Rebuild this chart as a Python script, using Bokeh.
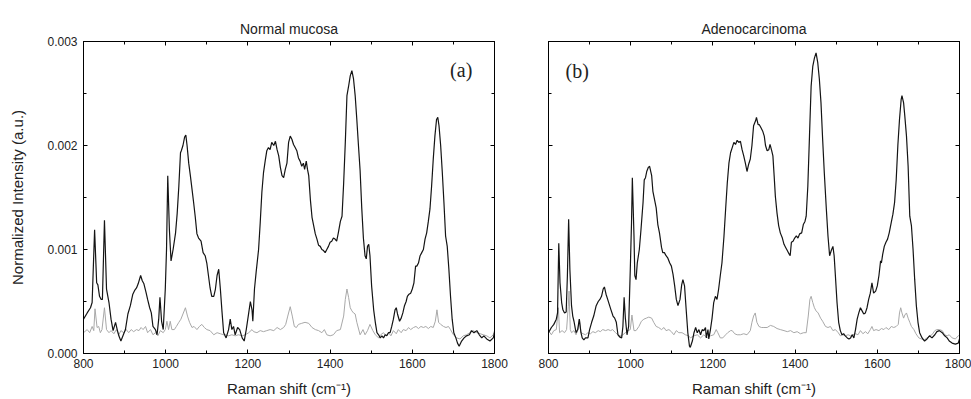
import numpy as np
from bokeh.plotting import figure
from bokeh.models import LinearAxis, FixedTicker, Label, CustomJSTickFormatter, Range1d
from bokeh.layouts import row
from bokeh.embed import file_html
from bokeh.resources import INLINE

# ---------------- data (intensity in units of 1e-3 a.u.) ----------------
titles = ["Normal mucosa", "Adenocarcinoma"]
panel_tags = ["(a)", "(b)"]
x_major = [800, 1000, 1200, 1400, 1600, 1800]
x_minor = [900, 1100, 1300, 1500, 1700]
y_major = [0.0, 0.001, 0.002, 0.003]
y_minor = [0.0005, 0.0015, 0.0025]
y_labels = {0.0: "0.000", 0.001: "0.001", 0.002: "0.002", 0.003: "0.003"}

black_a_x = [800, 809, 817, 821, 827, 832, 835, 839, 843, 846, 851, 856, 862, 867, 872, 878, 882, 886, 891, 896,
             902, 908, 914, 920, 925, 929, 933, 939, 943, 947, 952, 956, 961, 965, 969, 975, 979, 983, 986, 990,
             994, 999, 1002, 1005, 1009, 1013, 1018, 1024, 1028, 1032, 1036, 1038, 1042, 1046, 1049, 1052, 1056,
             1060, 1064, 1068, 1072, 1076, 1080, 1086, 1091, 1096, 1100, 1104, 1108, 1112, 1117, 1121, 1125, 1129,
             1133, 1137, 1141, 1147, 1153, 1157, 1161, 1165, 1169, 1175, 1180, 1186, 1191, 1196, 1202, 1206, 1210,
             1212, 1216, 1220, 1226, 1230, 1234, 1238, 1242, 1246, 1250, 1254, 1258, 1263, 1267, 1271, 1275, 1279,
             1283, 1287, 1291, 1295, 1299, 1303, 1307, 1311, 1315, 1319, 1323, 1327, 1331, 1335, 1338, 1342, 1345,
             1348, 1352, 1356, 1360, 1364, 1368, 1372, 1376, 1380, 1384, 1388, 1392, 1396, 1400, 1404, 1408, 1412,
             1416, 1420, 1425, 1429, 1433, 1437, 1441, 1445, 1449, 1453, 1457, 1461, 1465, 1469, 1473, 1477, 1481,
             1485, 1488, 1491, 1494, 1497, 1501, 1506, 1510, 1514, 1518, 1522, 1526, 1530, 1534, 1538, 1542, 1546,
             1550, 1554, 1558, 1561, 1564, 1569, 1573, 1577, 1581, 1585, 1588, 1592, 1596, 1600, 1604, 1608, 1611,
             1615, 1619, 1623, 1627, 1631, 1635, 1639, 1643, 1647, 1651, 1655, 1659, 1662, 1665, 1669, 1673, 1677,
             1681, 1685, 1689, 1693, 1697, 1701, 1706, 1710, 1714, 1720, 1726, 1732, 1739, 1744, 1750, 1757, 1763,
             1769, 1774, 1781, 1789, 1797, 1800]
black_a_y = [0.33, 0.39, 0.44, 0.49, 1.19, 0.68, 0.66, 0.55, 0.52, 0.52, 1.28, 0.62, 0.49, 0.33, 0.22, 0.30, 0.23,
             0.17, 0.12, 0.17, 0.23, 0.38, 0.46, 0.57, 0.61, 0.63, 0.67, 0.75, 0.70, 0.67, 0.59, 0.52, 0.44, 0.39,
             0.26, 0.23, 0.18, 0.33, 0.54, 0.31, 0.23, 0.62, 1.00, 1.71, 1.19, 0.89, 1.00, 1.16, 1.35, 1.61, 1.93,
             1.95, 2.00, 2.08, 2.10, 2.00, 1.83, 1.71, 1.58, 1.45, 1.31, 1.15, 1.11, 1.08, 0.97, 0.94, 0.87, 0.75,
             0.63, 0.55, 0.55, 0.62, 0.75, 0.81, 0.62, 0.40, 0.20, 0.15, 0.23, 0.33, 0.23, 0.26, 0.18, 0.25, 0.23,
             0.15, 0.12, 0.23, 0.39, 0.50, 0.42, 0.31, 0.62, 0.78, 1.00, 1.26, 1.55, 1.74, 1.85, 1.95, 1.98, 1.96,
             2.03, 2.00, 2.04, 1.96, 1.90, 1.79, 1.71, 1.69, 1.77, 1.83, 2.03, 2.09, 2.06, 2.01, 1.98, 1.95, 1.88,
             1.85, 1.80, 1.83, 1.77, 1.85, 1.77, 1.71, 1.48, 1.31, 1.23, 1.15, 1.10, 1.04, 1.03, 1.00, 0.99, 0.97,
             1.00, 1.03, 1.07, 1.08, 1.11, 1.10, 1.08, 1.16, 1.27, 1.32, 1.64, 2.03, 2.48, 2.57, 2.67, 2.72, 2.64,
             2.48, 2.25, 2.00, 1.76, 1.40, 1.11, 0.94, 0.91, 1.03, 1.05, 0.94, 0.65, 0.42, 0.30, 0.20, 0.18, 0.15,
             0.17, 0.15, 0.18, 0.17, 0.20, 0.20, 0.26, 0.33, 0.42, 0.44, 0.38, 0.31, 0.34, 0.39, 0.46, 0.50, 0.55,
             0.57, 0.58, 0.62, 0.68, 0.84, 0.84, 0.87, 0.94, 0.97, 1.00, 1.10, 1.16, 1.27, 1.39, 1.61, 1.87, 2.09,
             2.25, 2.27, 2.19, 2.00, 1.74, 1.45, 1.13, 1.03, 0.81, 0.55, 0.33, 0.20, 0.15, 0.10, 0.07, 0.12, 0.15,
             0.17, 0.18, 0.22, 0.20, 0.22, 0.18, 0.15, 0.17, 0.14, 0.12, 0.15, 0.20]

gray_a_x = [800, 809, 815, 821, 825, 828, 833, 837, 841, 845, 851, 856, 862, 867, 874, 880, 886, 891, 898, 904,
            910, 916, 922, 929, 935, 940, 945, 951, 956, 963, 969, 975, 981, 987, 994, 999, 1003, 1007, 1011, 1015,
            1021, 1026, 1032, 1037, 1042, 1048, 1053, 1058, 1064, 1069, 1076, 1082, 1088, 1094, 1100, 1108, 1117,
            1125, 1133, 1141, 1145, 1153, 1161, 1169, 1177, 1186, 1194, 1202, 1210, 1214, 1222, 1230, 1238, 1246,
            1254, 1263, 1271, 1279, 1287, 1292, 1297, 1303, 1308, 1313, 1318, 1323, 1331, 1339, 1348, 1356, 1364,
            1372, 1380, 1386, 1392, 1400, 1408, 1416, 1425, 1433, 1437, 1441, 1445, 1449, 1453, 1457, 1461, 1465,
            1473, 1480, 1485, 1491, 1497, 1504, 1510, 1518, 1523, 1530, 1536, 1542, 1548, 1554, 1561, 1566, 1573,
            1578, 1585, 1591, 1596, 1603, 1609, 1615, 1621, 1627, 1633, 1639, 1645, 1651, 1656, 1660, 1664, 1669,
            1676, 1682, 1688, 1693, 1700, 1708, 1716, 1724, 1732, 1740, 1748, 1757, 1765, 1773, 1781, 1789, 1797,
            1800]
gray_a_y = [0.20, 0.23, 0.20, 0.26, 0.22, 0.43, 0.25, 0.26, 0.20, 0.23, 0.44, 0.23, 0.20, 0.22, 0.19, 0.23, 0.18,
            0.22, 0.20, 0.23, 0.20, 0.23, 0.21, 0.23, 0.22, 0.25, 0.23, 0.26, 0.20, 0.23, 0.18, 0.20, 0.17, 0.22,
            0.20, 0.23, 0.31, 0.23, 0.31, 0.23, 0.23, 0.26, 0.30, 0.33, 0.38, 0.44, 0.36, 0.30, 0.25, 0.26, 0.23,
            0.26, 0.28, 0.25, 0.23, 0.22, 0.18, 0.20, 0.19, 0.18, 0.18, 0.17, 0.18, 0.17, 0.18, 0.17, 0.18, 0.20,
            0.23, 0.21, 0.20, 0.22, 0.21, 0.22, 0.23, 0.22, 0.25, 0.23, 0.25, 0.28, 0.36, 0.45, 0.36, 0.26, 0.25,
            0.28, 0.29, 0.30, 0.29, 0.25, 0.23, 0.22, 0.20, 0.23, 0.18, 0.17, 0.18, 0.22, 0.23, 0.36, 0.52, 0.62,
            0.54, 0.44, 0.41, 0.39, 0.38, 0.30, 0.18, 0.23, 0.18, 0.22, 0.28, 0.22, 0.18, 0.15, 0.18, 0.20, 0.17,
            0.20, 0.17, 0.22, 0.19, 0.23, 0.20, 0.23, 0.22, 0.25, 0.23, 0.25, 0.26, 0.24, 0.26, 0.25, 0.26, 0.24,
            0.26, 0.25, 0.31, 0.42, 0.30, 0.28, 0.26, 0.25, 0.26, 0.23, 0.18, 0.15, 0.14, 0.17, 0.18, 0.20, 0.22,
            0.20, 0.19, 0.18, 0.17, 0.15, 0.18, 0.22]

black_b_x = [800, 807, 813, 819, 822, 825, 828, 832, 835, 839, 843, 846, 849, 852, 856, 859, 862, 867, 871, 875,
             879, 882, 886, 890, 896, 900, 905, 910, 916, 921, 925, 929, 933, 936, 940, 944, 952, 957, 961, 965,
             969, 973, 978, 981, 984, 987, 991, 995, 999, 1002, 1004, 1008, 1010, 1013, 1016, 1021, 1025, 1030,
             1033, 1036, 1039, 1043, 1046, 1051, 1054, 1058, 1062, 1066, 1070, 1075, 1078, 1082, 1086, 1090, 1095,
             1099, 1103, 1107, 1111, 1115, 1120, 1124, 1127, 1131, 1135, 1139, 1143, 1145, 1150, 1154, 1158, 1162,
             1166, 1170, 1174, 1178, 1182, 1184, 1188, 1190, 1194, 1198, 1202, 1206, 1210, 1214, 1218, 1222, 1227,
             1231, 1235, 1239, 1243, 1247, 1251, 1255, 1259, 1263, 1267, 1271, 1275, 1279, 1283, 1287, 1291, 1295,
             1299, 1304, 1306, 1310, 1313, 1317, 1321, 1325, 1328, 1332, 1336, 1339, 1343, 1346, 1349, 1352, 1356,
             1360, 1364, 1369, 1373, 1377, 1381, 1385, 1388, 1391, 1395, 1399, 1403, 1407, 1411, 1416, 1420, 1424,
             1427, 1431, 1435, 1439, 1443, 1447, 1451, 1455, 1459, 1463, 1467, 1471, 1476, 1480, 1484, 1488, 1492,
             1495, 1498, 1502, 1506, 1510, 1514, 1518, 1522, 1527, 1531, 1535, 1539, 1543, 1547, 1551, 1555, 1559,
             1563, 1567, 1571, 1575, 1579, 1583, 1587, 1591, 1596, 1600, 1604, 1608, 1610, 1613, 1617, 1621, 1625,
             1629, 1634, 1638, 1642, 1646, 1650, 1654, 1658, 1660, 1664, 1667, 1671, 1675, 1679, 1683, 1687, 1691,
             1695, 1699, 1703, 1709, 1715, 1721, 1727, 1733, 1740, 1745, 1751, 1758, 1764, 1770, 1775, 1782, 1790,
             1797, 1800]
black_b_y = [0.20, 0.25, 0.28, 0.33, 0.39, 1.06, 0.68, 0.49, 0.42, 0.39, 0.40, 0.75, 1.29, 0.81, 0.46, 0.36, 0.31,
             0.20, 0.23, 0.33, 0.20, 0.15, 0.13, 0.15, 0.15, 0.23, 0.30, 0.36, 0.46, 0.50, 0.52, 0.55, 0.62, 0.64,
             0.57, 0.52, 0.42, 0.36, 0.34, 0.30, 0.18, 0.16, 0.15, 0.26, 0.54, 0.34, 0.18, 0.26, 0.81, 1.26, 1.69,
             1.13, 0.75, 0.71, 0.87, 1.00, 1.19, 1.45, 1.67, 1.69, 1.75, 1.79, 1.80, 1.71, 1.56, 1.48, 1.40, 1.24,
             1.16, 1.02, 0.97, 0.97, 0.94, 0.92, 0.87, 0.84, 0.76, 0.65, 0.52, 0.46, 0.52, 0.66, 0.71, 0.65, 0.42,
             0.20, 0.07, 0.06, 0.12, 0.20, 0.25, 0.20, 0.23, 0.18, 0.23, 0.22, 0.25, 0.15, 0.23, 0.14, 0.23, 0.34,
             0.49, 0.55, 0.52, 0.62, 0.75, 0.87, 1.13, 1.39, 1.64, 1.83, 1.93, 1.98, 2.03, 2.01, 2.05, 2.03, 2.04,
             1.96, 1.90, 1.83, 1.75, 1.82, 1.87, 2.00, 2.19, 2.24, 2.27, 2.20, 2.20, 2.17, 2.14, 2.09, 2.00, 1.95,
             1.96, 2.01, 1.95, 1.90, 1.71, 1.51, 1.35, 1.23, 1.16, 1.11, 1.05, 1.02, 0.99, 0.96, 0.94, 1.07, 1.08,
             1.11, 1.13, 1.11, 1.15, 1.16, 1.24, 1.27, 1.32, 1.61, 2.09, 2.57, 2.76, 2.84, 2.89, 2.80, 2.64, 2.41,
             2.06, 1.74, 1.39, 1.13, 0.94, 0.99, 1.03, 0.94, 0.75, 0.49, 0.30, 0.22, 0.18, 0.19, 0.17, 0.15, 0.14,
             0.15, 0.18, 0.15, 0.23, 0.33, 0.39, 0.44, 0.41, 0.38, 0.39, 0.44, 0.52, 0.58, 0.68, 0.58, 0.60, 0.65,
             0.75, 0.89, 0.87, 0.95, 1.03, 1.07, 1.10, 1.16, 1.26, 1.34, 1.45, 1.67, 2.00, 2.25, 2.44, 2.48, 2.41,
             2.28, 2.09, 1.80, 1.32, 1.23, 1.00, 0.71, 0.46, 0.30, 0.20, 0.15, 0.12, 0.14, 0.17, 0.15, 0.18, 0.21,
             0.22, 0.20, 0.17, 0.15, 0.12, 0.10, 0.09, 0.10, 0.14]

gray_b_x = [800, 807, 813, 819, 824, 827, 833, 839, 844, 848, 850, 853, 856, 862, 867, 872, 875, 879, 884, 890,
            896, 902, 908, 914, 921, 926, 932, 939, 945, 951, 956, 963, 969, 975, 981, 987, 994, 999, 1003, 1008,
            1013, 1020, 1026, 1032, 1038, 1044, 1051, 1056, 1062, 1068, 1075, 1081, 1086, 1093, 1099, 1105, 1111,
            1117, 1125, 1133, 1141, 1145, 1154, 1162, 1170, 1178, 1186, 1194, 1202, 1208, 1212, 1218, 1224, 1231,
            1236, 1243, 1247, 1253, 1259, 1267, 1275, 1283, 1291, 1295, 1299, 1303, 1307, 1312, 1318, 1324, 1332,
            1340, 1348, 1356, 1364, 1373, 1381, 1389, 1397, 1405, 1413, 1421, 1427, 1432, 1436, 1439, 1443, 1447,
            1451, 1456, 1462, 1467, 1474, 1480, 1486, 1492, 1498, 1505, 1510, 1516, 1522, 1529, 1535, 1540, 1547,
            1553, 1559, 1565, 1571, 1577, 1583, 1587, 1591, 1597, 1604, 1610, 1616, 1621, 1628, 1634, 1640, 1646,
            1651, 1654, 1657, 1660, 1664, 1667, 1671, 1675, 1679, 1683, 1689, 1694, 1701, 1707, 1714, 1721, 1727,
            1733, 1740, 1745, 1751, 1758, 1764, 1770, 1775, 1782, 1790, 1797, 1800]
gray_b_y = [0.22, 0.18, 0.22, 0.23, 0.44, 0.20, 0.22, 0.20, 0.23, 0.45, 0.60, 0.23, 0.20, 0.22, 0.18, 0.23, 0.33,
            0.20, 0.19, 0.18, 0.20, 0.19, 0.21, 0.20, 0.22, 0.21, 0.23, 0.22, 0.23, 0.22, 0.23, 0.20, 0.18, 0.17,
            0.18, 0.20, 0.22, 0.23, 0.37, 0.22, 0.22, 0.26, 0.31, 0.33, 0.34, 0.35, 0.34, 0.30, 0.26, 0.25, 0.23,
            0.25, 0.22, 0.23, 0.21, 0.18, 0.22, 0.20, 0.20, 0.18, 0.17, 0.15, 0.17, 0.18, 0.15, 0.18, 0.15, 0.17,
            0.18, 0.23, 0.20, 0.15, 0.15, 0.18, 0.20, 0.22, 0.22, 0.19, 0.18, 0.18, 0.19, 0.18, 0.22, 0.30, 0.36,
            0.39, 0.30, 0.26, 0.25, 0.25, 0.25, 0.27, 0.26, 0.24, 0.23, 0.22, 0.21, 0.22, 0.20, 0.21, 0.19, 0.20,
            0.20, 0.36, 0.52, 0.55, 0.49, 0.44, 0.41, 0.39, 0.34, 0.31, 0.26, 0.25, 0.26, 0.22, 0.23, 0.20, 0.17,
            0.18, 0.17, 0.18, 0.17, 0.18, 0.19, 0.18, 0.22, 0.19, 0.21, 0.19, 0.23, 0.26, 0.22, 0.23, 0.22, 0.24,
            0.23, 0.25, 0.23, 0.26, 0.25, 0.26, 0.28, 0.39, 0.44, 0.39, 0.34, 0.37, 0.39, 0.34, 0.30, 0.26, 0.23,
            0.19, 0.15, 0.14, 0.13, 0.15, 0.17, 0.18, 0.22, 0.23, 0.23, 0.22, 0.18, 0.17, 0.18, 0.15, 0.14, 0.17,
            0.18]

SANS = "Liberation Sans"
BLACK = "#141414"
GRAY = "#a8a8a8"
TXT = "#222222"


def make_panel(idx, bx, by, gx, gy, width, left, right, show_ylabels):
    p = figure(width=width, height=399, output_backend="svg", toolbar_location=None,
               x_range=Range1d(800, 1800), y_range=Range1d(0, 0.003),
               min_border_left=left, min_border_right=right, min_border_top=41, min_border_bottom=46,
               title=titles[idx])
    p.grid.visible = False
    p.background_fill_color = "white"
    p.border_fill_color = "white"
    p.outline_line_color = "black"
    p.outline_line_width = 1
    p.title.align = "center"
    p.title.text_font = SANS
    p.title.text_font_size = "14px"
    p.title.text_font_style = "normal"
    p.title.text_color = TXT
    p.title.standoff = 10

    xt = FixedTicker(ticks=x_major, minor_ticks=x_minor)
    yt = FixedTicker(ticks=y_major, minor_ticks=y_minor)
    blank = CustomJSTickFormatter(code="return ''")

    bottom = p.below[0]
    left_ax = p.left[0]
    bottom.ticker = xt
    bottom.axis_label = "Raman shift (cm\u207b\u00b9)"
    left_ax.ticker = yt
    if show_ylabels:
        left_ax.major_label_overrides = y_labels
        left_ax.axis_label = "Normalized Intensity (a.u.)"
    else:
        left_ax.formatter = blank
    top = LinearAxis(ticker=xt, formatter=blank)
    rgt = LinearAxis(ticker=yt, formatter=blank)
    p.add_layout(top, "above")
    p.add_layout(rgt, "right")

    for ax in [bottom, left_ax, top, rgt]:
        ax.major_tick_in = 4
        ax.major_tick_out = 0
        ax.minor_tick_in = 3
        ax.minor_tick_out = 0
        ax.axis_line_color = "black"
        ax.major_tick_line_color = "black"
        ax.minor_tick_line_color = "black"
        ax.major_label_text_font = SANS
        ax.major_label_text_font_size = "12px"
        ax.major_label_text_color = TXT
        ax.axis_label_text_font = SANS
        ax.axis_label_text_font_size = "15px"
        ax.axis_label_text_font_style = "normal"
        ax.axis_label_text_color = TXT
    bottom.major_label_standoff = 5
    bottom.axis_label_standoff = 9
    left_ax.major_label_standoff = 6
    left_ax.axis_label_standoff = 18
    top.major_label_standoff = 0
    rgt.major_label_standoff = 0

    p.line(np.array(gx), np.array(gy) * 1e-3, line_color=GRAY, line_width=1.0)
    p.line(np.array(bx), np.array(by) * 1e-3, line_color=BLACK, line_width=1.2)
    return p


pa = make_panel(0, black_a_x, black_a_y, gray_a_x, gray_a_y, 521, 83, 27, True)
pb = make_panel(1, black_b_x, black_b_y, gray_b_x, gray_b_y, 450, 27, 12, False)

pa.add_layout(Label(x=1719, y=0.00273, text=panel_tags[0], text_font="Liberation Serif",
                    text_font_size="20px", text_align="center", text_baseline="middle", text_color=TXT))
pb.add_layout(Label(x=870, y=0.00272, text=panel_tags[1], text_font="Liberation Serif",
                    text_font_size="20px", text_align="center", text_baseline="middle", text_color=TXT))

layout = row(pa, pb)
open("out.html", "w").write(file_html(layout, INLINE))
